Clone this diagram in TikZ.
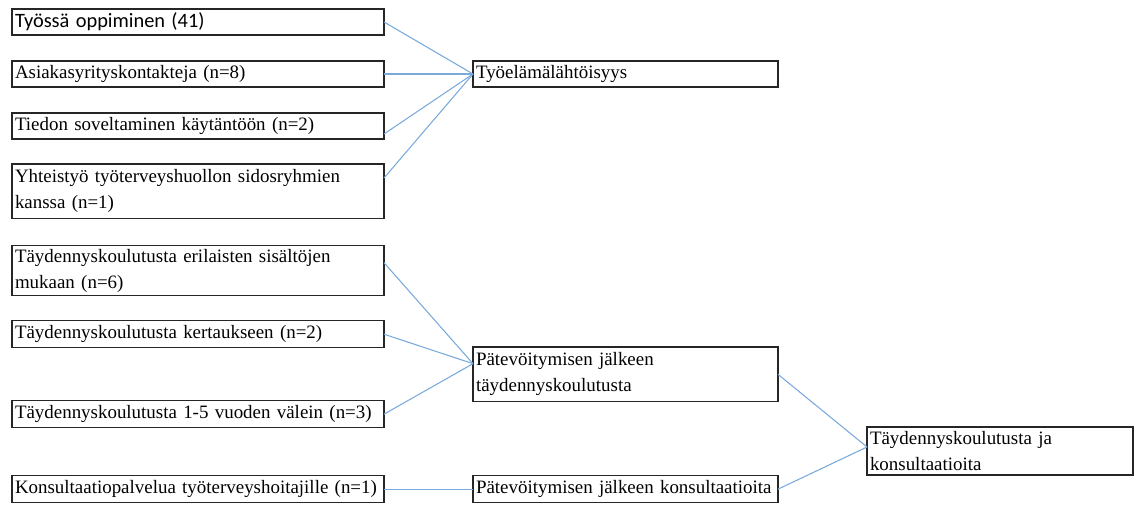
\documentclass[tikz,border=0pt]{standalone}
\usepackage{fontspec}
\setmainfont{Liberation Serif}
\newfontfamily\carlito{Carlito}
\usepackage{tikz}
\usetikzlibrary{positioning}
\definecolor{linkblue}{RGB}{122,170,220}
\tikzstyle{link} = [draw=linkblue, line width=0.8pt]

\begin{document}
\begin{tikzpicture}[x=0.75pt, y=-0.75pt,
			box/.style={
					rectangle,
					draw=black!85,
					line width=1pt,
					inner xsep=2.25pt,
					inner ysep=0pt,
					outer sep=0pt,
					align=left,
					minimum height=19.5pt,
					font=\fontsize{14.2}{19.5}\selectfont,
				},
			left box/.style={box, text width=274.5pt},
			mid box/.style={box, text width=224.25pt},
			tall/.style={minimum height=41pt},
			node distance=19.5pt
		]
		\useasboundingbox (0,0) rectangle (1134,504);

		% Left column, upper group
		\node[left box, anchor=north west] (tyossa) at (12,9) {\fontsize{15.3}{19.5}\carlito Työssä oppiminen (41)};
		\node[left box, below=of tyossa] (asiakas) {Asiakasyrityskontakteja (n=8)};
		\node[left box, below=of asiakas] (tiedon) {Tiedon soveltaminen käytäntöön (n=2)};
		\node[left box, tall, below=18.75pt of tiedon] (yhteistyo) {Yhteistyö työterveyshuollon sidosryhmien\\kanssa (n=1)};

		% Left column, lower group
		\node[left box, minimum height=37.5pt, below=20.25pt of yhteistyo] (erilaiset) {Täydennyskoulutusta erilaisten sisältöjen\\mukaan (n=6)};
		\node[left box, minimum height=20.25pt, below=18.75pt of erilaiset] (kertaus) {Täydennyskoulutusta kertaukseen (n=2)};
		\node[left box, minimum height=20.25pt, below=39.75pt of kertaus] (valein) {Täydennyskoulutusta 1-5 vuoden välein (n=3)};
		\node[left box, minimum height=20.25pt, below=36pt of valein] (konsultaatio) {Konsultaatiopalvelua työterveyshoitajille (n=1)};

		% Middle column
		\node[mid box, right=66.75pt of asiakas] (tyoelama) {Työelämälähtöisyys};
		\node[mid box, tall, anchor=north west] (patevoit) at (473,347) {Pätevöitymisen jälkeen\\täydennyskoulutusta};
		\node[mid box, minimum height=20.25pt, right=66.75pt of konsultaatio] (konsult) {Pätevöitymisen jälkeen konsultaatioita};

		% Right column
		\node[box, minimum height=36pt, text width=195pt, anchor=north west] (taydennys) at (867,427) {Täydennyskoulutusta ja\\konsultaatioita};

		% Connections
		\draw[link] (tyossa.east) -- (tyoelama.west);
		\draw[link] (asiakas.east) -- (tyoelama.west);
		\draw[link] ([yshift=-6pt]tiedon.east) -- (tyoelama.west);
		\draw[link] ([yshift=10pt]yhteistyo.east) -- (tyoelama.west);
		\draw[link] ([yshift=6pt]erilaiset.east) -- ([yshift=8pt]patevoit.west);
		\draw[link] (kertaus.east) -- ([yshift=8pt]patevoit.west);
		\draw[link] (valein.east) -- ([yshift=8pt]patevoit.west);
		\draw[link] (konsultaatio.east) -- (konsult.west);
		\draw[link] (patevoit.east) -- ([yshift=3pt]taydennys.west);
		\draw[link] (konsult.east) -- ([yshift=3pt]taydennys.west);

	\end{tikzpicture}
\end{document}
